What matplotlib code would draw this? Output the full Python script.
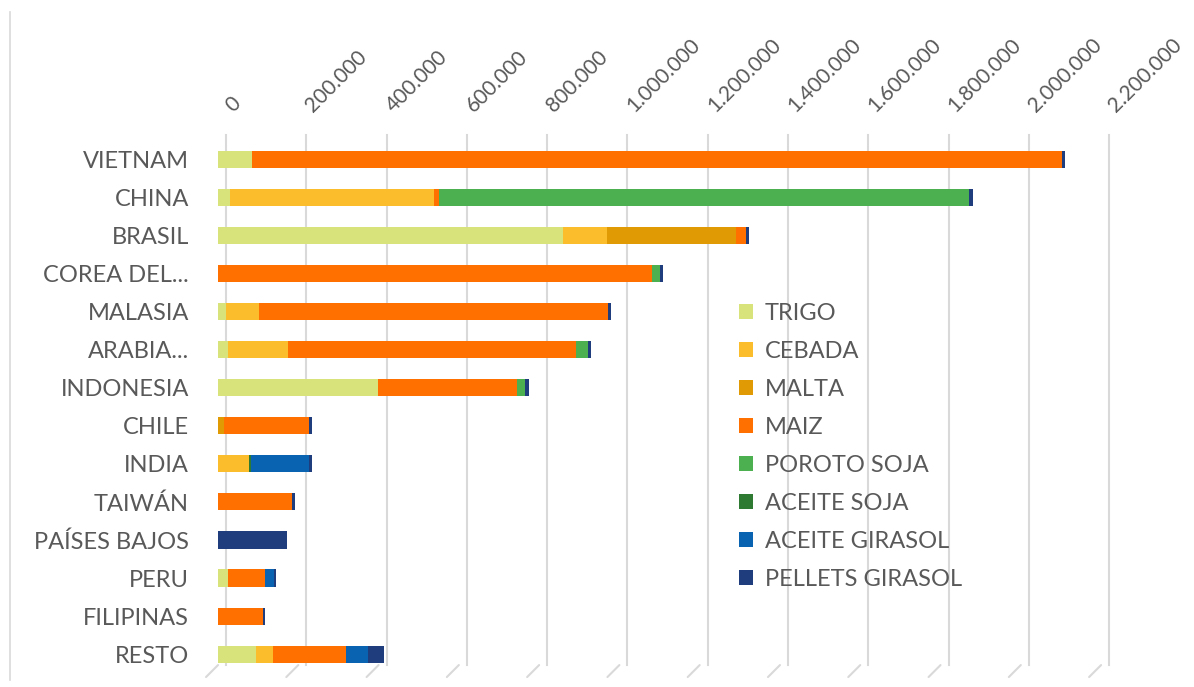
import numpy as np
import matplotlib
matplotlib.use('Agg')
import matplotlib.pyplot as plt
from matplotlib.transforms import ScaledTranslation

plt.rcParams['font.family'] = ['Lato', 'DejaVu Sans']

# destinos (de arriba hacia abajo)
PAISES = ['VIETNAM', 'CHINA', 'BRASIL', 'COREA DEL...', 'MALASIA', 'ARABIA...',
          'INDONESIA', 'CHILE', 'INDIA', 'TAIWÁN', 'PAÍSES BAJOS', 'PERU',
          'FILIPINAS', 'RESTO']

# toneladas por producto (mismo orden que PAISES)
TRIGO          = [85000, 30000, 859000, 0, 20000, 24000, 398000, 0, 0, 0, 0, 25000, 0, 95000]
CEBADA         = [0, 508000, 109000, 0, 82000, 150000, 0, 0, 76000, 0, 0, 0, 0, 42000]
MALTA          = [0, 0, 322000, 0, 0, 0, 0, 14000, 0, 0, 0, 0, 0, 0]
MAIZ           = [2017000, 12000, 26000, 1082000, 869000, 719000, 346000, 212000, 0, 184000, 0, 93000, 112000, 182000]
POROTO_SOJA    = [0, 1322000, 0, 19000, 0, 28000, 22000, 0, 0, 0, 0, 0, 0, 0]
ACEITE_SOJA    = [0, 0, 0, 0, 0, 0, 0, 0, 7000, 0, 0, 0, 0, 0]
ACEITE_GIRASOL = [0, 0, 0, 0, 0, 0, 0, 0, 143000, 0, 0, 21000, 0, 55000]
PELLETS_GIR    = [8000, 8000, 8000, 8000, 8000, 8000, 8000, 8000, 8000, 8000, 172000, 6000, 6000, 40000]

TICKS = list(range(0, 2200001, 200000))

SERIES = [
    ('TRIGO', TRIGO, '#d8e37b'),
    ('CEBADA', CEBADA, '#fbbd2c'),
    ('MALTA', MALTA, '#df9a04'),
    ('MAIZ', MAIZ, '#ff7000'),
    ('POROTO SOJA', POROTO_SOJA, '#4caf50'),
    ('ACEITE SOJA', ACEITE_SOJA, '#2e7a33'),
    ('ACEITE GIRASOL', ACEITE_GIRASOL, '#0a63b1'),
    ('PELLETS GIRASOL', PELLETS_GIR, '#1f3c7c'),
]

GRAY = '#595959'
GRID = '#d9d9d9'

fig = plt.figure(figsize=(11.94, 6.87), dpi=100)
ax = fig.add_axes([0.1826, 0.0146, 0.7396, 0.789])

def px(dx, dy):
    return ScaledTranslation(dx / 100, dy / 100, fig.dpi_scale_trans)

y = np.arange(len(PAISES))
left = np.zeros(len(PAISES))
for name, vals, col in SERIES:
    vals = np.array(vals, dtype=float)
    ax.barh(y, vals, left=left, height=0.45, color=col, label=name,
            edgecolor='none', zorder=3)
    left += vals

ax.set_xlim(0, 2200000)
ax.set_ylim(13.6, -0.64)
ax.set_xticks([])
ax.set_yticks(y)
ax.set_yticklabels(PAISES)
ax.tick_params(axis='y', length=0, pad=21, labelsize=17, labelcolor=GRAY)
for s in ax.spines.values():
    s.set_visible(False)

# rejilla "3D": pared del fondo desplazada y piso inclinado
xt = ax.get_xaxis_transform()
for v in TICKS:
    ax.plot([v, v], [0.022, 1.0], transform=xt + px(8, 0), color=GRID, lw=1.5, zorder=0,
            clip_on=False)
    ax.annotate('', xy=(v, 0.022), xycoords=xt, xytext=(-12, -12), textcoords='offset pixels',
                arrowprops=dict(arrowstyle='-', color=GRID, lw=1.5, shrinkA=0, shrinkB=0))
    ax.text(v, 1.0, f'{v:,}'.replace(',', '.'), transform=xt + px(18, 19), rotation=45,
            rotation_mode='anchor', ha='left', va='bottom', fontsize=15, color=GRAY)

leg = fig.legend(loc='upper left', bbox_to_anchor=(0.615, 0.566), frameon=False,
                 fontsize=17, labelcolor=GRAY, handlelength=0.6, handleheight=0.6,
                 handletextpad=0.5, labelspacing=0.72, borderaxespad=0, borderpad=0.2)

# borde izquierdo del área del gráfico
fig.add_artist(plt.Line2D([0.0085, 0.0085], [0.01, 0.983], color=GRID, linewidth=1.2))

fig.savefig('out.png', dpi=100)
